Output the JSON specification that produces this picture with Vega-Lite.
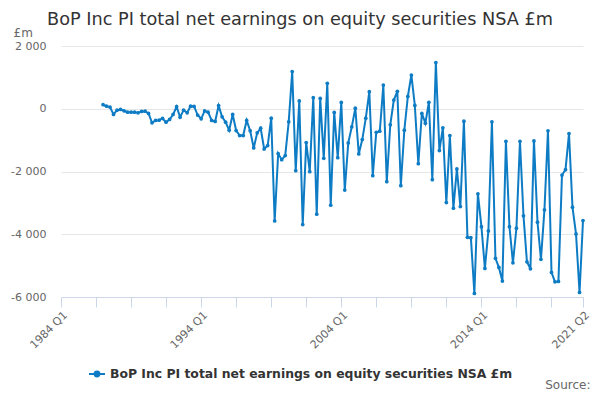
{
  "$schema": "https://vega.github.io/schema/vega-lite/v6.json",
  "width": 522,
  "height": 251,
  "autosize": {"type": "none"},
  "padding": {"left": 61, "top": 46, "right": 17, "bottom": 103},
  "title": {
    "text": "BoP Inc PI total net earnings on equity securities NSA £m",
    "anchor": "start",
    "frame": "group",
    "dx": -14,
    "dy": 7,
    "fontSize": 17.7,
    "fontWeight": "normal",
    "color": "#333333",
    "offset": 4
  },
  "data": {
    "values": [
      {"q": "1987-01-01", "v": 128}, {"q": "1987-04-01", "v": 83}, {"q": "1987-07-01", "v": 54}, {"q": "1987-10-01", "v": -182},
      {"q": "1988-01-01", "v": -45}, {"q": "1988-04-01", "v": -22}, {"q": "1988-07-01", "v": -64}, {"q": "1988-10-01", "v": -109},
      {"q": "1989-01-01", "v": -109}, {"q": "1989-04-01", "v": -109}, {"q": "1989-07-01", "v": -128}, {"q": "1989-10-01", "v": -86},
      {"q": "1990-01-01", "v": -77}, {"q": "1990-04-01", "v": -150}, {"q": "1990-07-01", "v": -448}, {"q": "1990-10-01", "v": -374},
      {"q": "1991-01-01", "v": -365}, {"q": "1991-04-01", "v": -310}, {"q": "1991-07-01", "v": -429}, {"q": "1991-10-01", "v": -342},
      {"q": "1992-01-01", "v": -182}, {"q": "1992-04-01", "v": 64}, {"q": "1992-07-01", "v": -269}, {"q": "1992-10-01", "v": -45},
      {"q": "1993-01-01", "v": -128}, {"q": "1993-04-01", "v": 83}, {"q": "1993-07-01", "v": 74}, {"q": "1993-10-01", "v": -200},
      {"q": "1994-01-01", "v": -320}, {"q": "1994-04-01", "v": -70}, {"q": "1994-07-01", "v": -109}, {"q": "1994-10-01", "v": -374},
      {"q": "1995-01-01", "v": -406}, {"q": "1995-04-01", "v": 100}, {"q": "1995-07-01", "v": -256}, {"q": "1995-10-01", "v": -429},
      {"q": "1996-01-01", "v": -685}, {"q": "1996-04-01", "v": -182}, {"q": "1996-07-01", "v": -694}, {"q": "1996-10-01", "v": -854},
      {"q": "1997-01-01", "v": -854}, {"q": "1997-04-01", "v": -374}, {"q": "1997-07-01", "v": -700}, {"q": "1997-10-01", "v": -1248},
      {"q": "1998-01-01", "v": -768}, {"q": "1998-04-01", "v": -621}, {"q": "1998-07-01", "v": -1280}, {"q": "1998-10-01", "v": -1174},
      {"q": "1999-01-01", "v": -301}, {"q": "1999-04-01", "v": -3574}, {"q": "1999-07-01", "v": -1430}, {"q": "1999-10-01", "v": -1622},
      {"q": "2000-01-01", "v": -1494}, {"q": "2000-04-01", "v": -416}, {"q": "2000-07-01", "v": 1184}, {"q": "2000-10-01", "v": -1974},
      {"q": "2001-01-01", "v": 250}, {"q": "2001-04-01", "v": -3693}, {"q": "2001-07-01", "v": -1078}, {"q": "2001-10-01", "v": -2006},
      {"q": "2002-01-01", "v": 352}, {"q": "2002-04-01", "v": -3360}, {"q": "2002-07-01", "v": 330}, {"q": "2002-10-01", "v": -1581},
      {"q": "2003-01-01", "v": 810}, {"q": "2003-04-01", "v": -3072}, {"q": "2003-07-01", "v": -118}, {"q": "2003-10-01", "v": -1558},
      {"q": "2004-01-01", "v": 202}, {"q": "2004-04-01", "v": -2592}, {"q": "2004-07-01", "v": -1088}, {"q": "2004-10-01", "v": -576},
      {"q": "2005-01-01", "v": 19}, {"q": "2005-04-01", "v": -1440}, {"q": "2005-07-01", "v": -982}, {"q": "2005-10-01", "v": -301},
      {"q": "2006-01-01", "v": 544}, {"q": "2006-04-01", "v": -2134}, {"q": "2006-07-01", "v": -749}, {"q": "2006-10-01", "v": -717},
      {"q": "2007-01-01", "v": 755}, {"q": "2007-04-01", "v": -2326}, {"q": "2007-07-01", "v": -512}, {"q": "2007-10-01", "v": 275},
      {"q": "2008-01-01", "v": 554}, {"q": "2008-04-01", "v": -2454}, {"q": "2008-07-01", "v": -685}, {"q": "2008-10-01", "v": 394},
      {"q": "2009-01-01", "v": 1075}, {"q": "2009-04-01", "v": 106}, {"q": "2009-07-01", "v": -1750}, {"q": "2009-10-01", "v": -150},
      {"q": "2010-01-01", "v": -460}, {"q": "2010-04-01", "v": 205}, {"q": "2010-07-01", "v": -2262}, {"q": "2010-10-01", "v": 1472},
      {"q": "2011-01-01", "v": -1334}, {"q": "2011-04-01", "v": -608}, {"q": "2011-07-01", "v": -2989}, {"q": "2011-10-01", "v": -854},
      {"q": "2012-01-01", "v": -3168}, {"q": "2012-04-01", "v": -1920}, {"q": "2012-07-01", "v": -3117}, {"q": "2012-10-01", "v": -397},
      {"q": "2013-01-01", "v": -4096}, {"q": "2013-04-01", "v": -4109}, {"q": "2013-07-01", "v": -5888}, {"q": "2013-10-01", "v": -2710},
      {"q": "2014-01-01", "v": -3757}, {"q": "2014-04-01", "v": -5088}, {"q": "2014-07-01", "v": -3894}, {"q": "2014-10-01", "v": -416},
      {"q": "2015-01-01", "v": -4768}, {"q": "2015-04-01", "v": -5056}, {"q": "2015-07-01", "v": -5494}, {"q": "2015-10-01", "v": -1037},
      {"q": "2016-01-01", "v": -3757}, {"q": "2016-04-01", "v": -4909}, {"q": "2016-07-01", "v": -3808}, {"q": "2016-10-01", "v": -1037},
      {"q": "2017-01-01", "v": -3414}, {"q": "2017-04-01", "v": -4877}, {"q": "2017-07-01", "v": -5101}, {"q": "2017-10-01", "v": -1024},
      {"q": "2018-01-01", "v": -3616}, {"q": "2018-04-01", "v": -4800}, {"q": "2018-07-01", "v": -3222}, {"q": "2018-10-01", "v": -704},
      {"q": "2019-01-01", "v": -5216}, {"q": "2019-04-01", "v": -5517}, {"q": "2019-07-01", "v": -5504}, {"q": "2019-10-01", "v": -2112},
      {"q": "2020-01-01", "v": -1942}, {"q": "2020-04-01", "v": -790}, {"q": "2020-07-01", "v": -3136}, {"q": "2020-10-01", "v": -3990},
      {"q": "2021-01-01", "v": -5856}, {"q": "2021-04-01", "v": -3565}
    ]
  },
  "mark": {
    "type": "line",
    "strokeWidth": 2,
    "point": {"filled": true, "size": 14}
  },
  "encoding": {
    "x": {
      "field": "q",
      "type": "temporal",
      "scale": {
        "type": "utc",
        "domain": [
          {"year": 1984, "month": 1, "date": 1, "utc": true},
          {"year": 2021, "month": 4, "date": 1, "utc": true}
        ]
      },
      "axis": {
        "title": "Source:",
        "titleX": 529,
        "titleY": 91,
        "titleAlign": "right",
        "titleBaseline": "alphabetic",
        "titleFontSize": 12,
        "titleFontWeight": "normal",
        "titleColor": "#666666",
        "values": [
          {"year": 1984, "month": 1, "date": 1, "utc": true},
          {"year": 1986, "month": 7, "date": 1, "utc": true},
          {"year": 1989, "month": 1, "date": 1, "utc": true},
          {"year": 1991, "month": 7, "date": 1, "utc": true},
          {"year": 1994, "month": 1, "date": 1, "utc": true},
          {"year": 1996, "month": 7, "date": 1, "utc": true},
          {"year": 1999, "month": 1, "date": 1, "utc": true},
          {"year": 2001, "month": 7, "date": 1, "utc": true},
          {"year": 2004, "month": 1, "date": 1, "utc": true},
          {"year": 2006, "month": 7, "date": 1, "utc": true},
          {"year": 2009, "month": 1, "date": 1, "utc": true},
          {"year": 2011, "month": 7, "date": 1, "utc": true},
          {"year": 2014, "month": 1, "date": 1, "utc": true},
          {"year": 2016, "month": 7, "date": 1, "utc": true},
          {"year": 2019, "month": 1, "date": 1, "utc": true},
          {"year": 2021, "month": 4, "date": 1, "utc": true}
        ],
        "labelExpr": "(utcmonth(datum.value) == 0 && utcyear(datum.value) % 10 == 4) || utcyear(datum.value) == 2021 ? utcFormat(datum.value, '%Y Q%q') : ''",
        "labelAngle": -45,
        "labelAlign": "right",
        "labelBaseline": "top",
        "labelFontSize": 11,
        "labelColor": "#666666",
        "labelPadding": 2,
        "labelOverlap": false,
        "labelBound": false,
        "grid": false,
        "domainColor": "#ccd6eb",
        "tickColor": "#ccd6eb",
        "tickSize": 10
      }
    },
    "y": {
      "field": "v",
      "type": "quantitative",
      "scale": {"domain": [-6000, 2000], "nice": false, "zero": false},
      "axis": {
        "title": "£m",
        "titleAngle": 0,
        "titleAlign": "left",
        "titleBaseline": "alphabetic",
        "titleX": -48,
        "titleY": -10,
        "titleFontSize": 12,
        "titleFontWeight": "normal",
        "titleColor": "#666666",
        "values": [-6000, -4000, -2000, 0, 2000],
        "labelExpr": "(datum.value < 0 ? '-' : '') + replace(format(abs(datum.value), ','), ',', ' ')",
        "labelFontSize": 11,
        "labelColor": "#666666",
        "labelPadding": 15,
        "domain": false,
        "ticks": false,
        "tickSize": 0,
        "gridColor": "#e6e6e6"
      }
    },
    "color": {
      "datum": "BoP Inc PI total net earnings on equity securities NSA £m",
      "type": "nominal",
      "scale": {"range": ["#0e7cc4"]},
      "legend": {
        "title": null,
        "orient": "none",
        "legendX": 27,
        "legendY": 319,
        "symbolType": "M-1,0L1,0M-0.3,0A0.3,0.3 0 1,0 0.3,0A0.3,0.3 0 1,0 -0.3,0",
        "symbolSize": 256,
        "symbolStrokeWidth": 2,
        "symbolFillColor": "#0e7cc4",
        "labelFontSize": 12.4,
        "labelFontWeight": "bold",
        "labelColor": "#333333",
        "labelLimit": 600
      }
    }
  },
  "config": {
    "font": "DejaVu Sans",
    "view": {"stroke": null}
  }
}
